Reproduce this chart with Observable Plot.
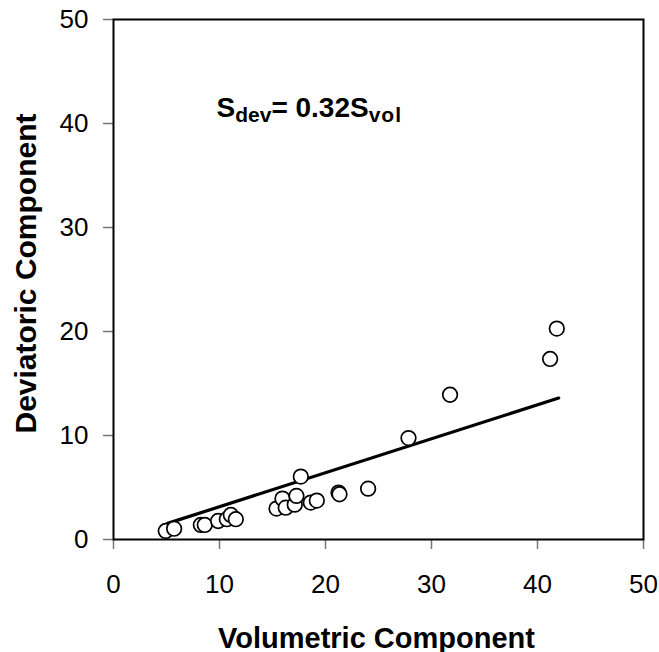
<!DOCTYPE html>
<html>
<head>
<meta charset="utf-8">
<script src="https://cdn.jsdelivr.net/npm/d3@7"></script>
<script src="https://cdn.jsdelivr.net/npm/@observablehq/plot@0.6"></script>
<style>
  html, body { margin: 0; padding: 0; background: #fff; }
  #chart svg { display: block; }
</style>
</head>
<body>
<div id="chart"></div>
<script>
// Data
const volumetric = [4.93, 5.72, 8.24, 8.61, 9.87, 10.69, 11.07, 11.54, 15.38, 15.94, 16.25, 17.10, 17.26, 17.67, 18.61, 19.18, 21.23, 21.32, 24.02, 27.83, 31.75, 41.19, 41.82];
const deviatoric = [0.82, 1.04, 1.40, 1.40, 1.78, 1.95, 2.36, 1.95, 2.97, 3.93, 3.06, 3.35, 4.19, 6.05, 3.55, 3.74, 4.51, 4.35, 4.89, 9.75, 13.92, 17.36, 20.28];
const fitX = [5.1, 42.0];
const fitY = [1.55, 13.6];
const xTicks = [0, 10, 20, 30, 40, 50];
const yTicks = [0, 10, 20, 30, 40, 50];
const xTitle = "Volumetric Component";
const yTitle = "Deviatoric Component";

const points = volumetric.map((v, i) => ({vol: v, dev: deviatoric[i]}));
const fit = fitX.map((v, i) => ({vol: v, dev: fitY[i]}));

const chart = Plot.plot({
  width: 659,
  height: 652,
  marginLeft: 113,
  marginRight: 16,
  marginTop: 19,
  marginBottom: 113,
  style: {fontFamily: "'Liberation Sans', Arial, sans-serif", background: "#fff", color: "#000"},
  x: {domain: [0, 50]},
  y: {domain: [0, 50]},
  marks: [
    Plot.axisX({ticks: xTicks, tickSize: 10, tickPadding: 25, fontSize: 26, stroke: "#777", strokeWidth: 1.5, label: null, tickFormat: d => String(d)}),
    Plot.axisY({ticks: yTicks, tickSize: 10, tickPadding: 15, fontSize: 26, stroke: "#777", strokeWidth: 1.5, label: null, tickFormat: d => String(d)}),
    Plot.frame({stroke: "#000", strokeWidth: 2}),
    Plot.line(fit, {x: "vol", y: "dev", stroke: "#000", strokeWidth: 3.2}),
    Plot.dot(points, {x: "vol", y: "dev", r: 7.3, fill: "#fff", stroke: "#000", strokeWidth: 1.7}),
    Plot.text([xTitle], {frameAnchor: "bottom", dy: 108, dx: -2, textAnchor: "middle", lineAnchor: "bottom", fontSize: 29, fontWeight: "bold", fill: "#000"}),
    Plot.text([yTitle], {frameAnchor: "left", dx: -87, dy: -6, rotate: -90, textAnchor: "middle", lineAnchor: "middle", fontSize: 30, fontWeight: "bold", fill: "#000"}),
    Plot.text(["Sdev= 0.32Svol"], {frameAnchor: "top-left", dx: 103, dy: 97, textAnchor: "start", lineAnchor: "bottom", fontSize: 28, fontWeight: "bold", fill: "#000", className: "eqn"})
  ]
});

// Subscripts in the equation text
d3.select(chart).selectAll(".eqn text").each(function() {
  const t = d3.select(this);
  t.text(null);
  t.append("tspan").text("S");
  t.append("tspan").attr("font-size", 21).attr("dy", 5).text("dev");
  t.append("tspan").attr("dy", -5).text("= 0.32S");
  t.append("tspan").attr("font-size", 21).attr("dy", 5).attr("letter-spacing", 1).text("vol");
});

document.getElementById("chart").appendChild(chart);
</script>
</body>
</html>
